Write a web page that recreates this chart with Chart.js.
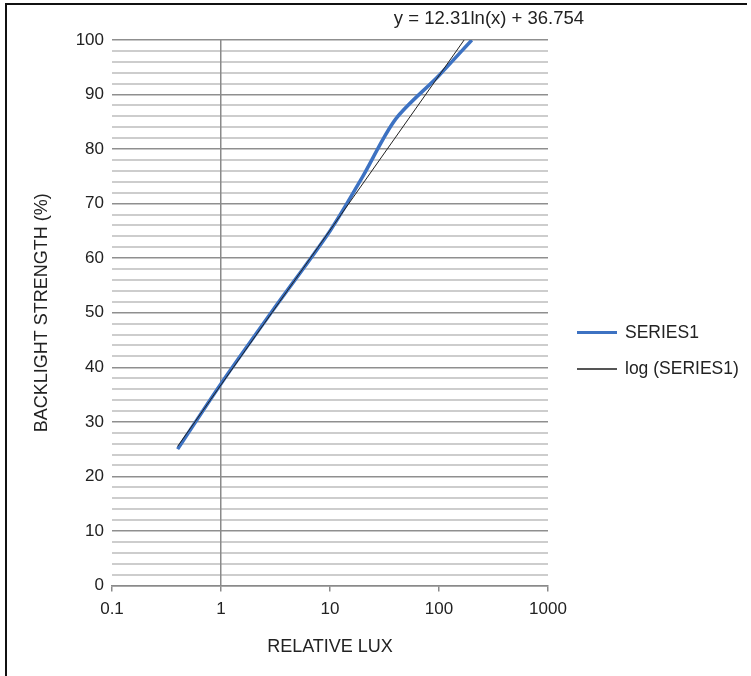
<!DOCTYPE html>
<html>
<head>
<meta charset="utf-8">
<script src="https://cdn.jsdelivr.net/npm/chart.js@4/dist/chart.umd.min.js"></script>
<style>
  html, body { margin: 0; padding: 0; background: #fff; }
  body { width: 751px; height: 676px; position: relative; overflow: hidden;
         font-family: "Liberation Sans", Arial, sans-serif; color: #222; }
  #moldura { position: absolute; left: 5px; top: 3px; width: 740px; height: 680px;
             border-top: 2px solid #111; border-left: 2px solid #111; }
  #wrap { position: absolute; left: 0; top: 0; width: 751px; height: 676px; }
  #eq { position: absolute; top: 7px; left: 389px; width: 200px; text-align: center; font-size: 18.5px; }
  .leg { position: absolute; left: 577px; display: flex; align-items: center; font-size: 17.5px; white-space: nowrap; }
  .leg i { display: inline-block; width: 40px; margin-right: 8px; }
</style>
</head>
<body>
<div id="moldura"></div>
<div id="wrap"><canvas id="cv" width="751" height="676"></canvas></div>
<div id="eq">y = 12.31ln(x) + 36.754</div>
<div class="leg" style="top:322px"><i style="height:3px;background:#3d72c2"></i>SERIES1</div>
<div class="leg" style="top:358px"><i style="height:2px;background:#555"></i>log (SERIES1)</div>
<script>
// valores
const LUX = [0.4, 1, 3, 10, 20, 40, 100, 200];
const BACKLIGHT = [25, 37, 50.5, 65, 75, 85.5, 93.5, 100];
// linha de tendencia (log) - extremos
const TREND_LUX = [0.4, 170];
const TREND_Y = [25.5, 100];
const X_TICKS = [0.1, 1, 10, 100, 1000];

const pts = (xs, ys) => xs.map((x, i) => ({ x, y: ys[i] }));

const CHART_LEFT = 112, CHART_BOTTOM = 585.5;

new Chart(document.getElementById('cv'), {
  type: 'scatter',
  data: {
    datasets: [{
      label: 'SERIES1',
      data: pts(LUX, BACKLIGHT),
      showLine: true,
      borderColor: '#3d72c2',
      borderWidth: 3.5,
      pointRadius: 0,
      tension: 0.3,
      order: 2
    }, {
      label: 'log (SERIES1)',
      data: pts(TREND_LUX, TREND_Y),
      showLine: true,
      borderColor: '#222',
      borderWidth: 1,
      pointRadius: 0,
      order: 1
    }]
  },
  options: {
    responsive: false,
    animation: false,
    layout: { padding: { left: 27, top: 40, right: 203, bottom: 0 } },
    plugins: { legend: { display: false }, tooltip: { enabled: false } },
    scales: {
      x: {
        type: 'logarithmic', min: 0.1, max: 1000,
        afterBuildTicks: s => { s.ticks = X_TICKS.map(v => ({ value: v })); },
        afterFit: s => { s.height = 676 - CHART_BOTTOM; },
        ticks: { callback: v => String(v), color: '#222', font: { size: 17, family: 'Liberation Sans' }, padding: 8, maxRotation: 0, autoSkip: false },
        grid: {
          color: c => (c.tick && c.tick.value === 1) ? '#8a8a8a' : 'rgba(0,0,0,0)',
          tickColor: '#8a8a8a', tickLength: 6, lineWidth: 1.5
        },
        border: { color: '#8a8a8a', width: 1.5 },
        title: { display: true, text: 'RELATIVE LUX', color: '#222', font: { size: 18, family: 'Liberation Sans' }, padding: { top: 0, bottom: 18 } }
      },
      y: {
        min: 0, max: 100,
        afterFit: s => { s.width = CHART_LEFT - 27; },
        ticks: { stepSize: 2, maxTicksLimit: 60, autoSkip: false, callback: v => (v % 10 === 0 ? v : ''), color: '#222', font: { size: 17, family: 'Liberation Sans' }, padding: 8 },
        grid: {
          z: -2, // grade horizontal por baixo da linha vertical em x=1
          drawTicks: false,
          color: c => (c.tick && c.tick.value % 10 === 0) ? '#8f8f8f' : '#cdcdcd',
          lineWidth: c => (c.tick && c.tick.value % 10 === 0) ? 1.5 : 2
        },
        border: { display: false },
        title: { display: true, text: 'BACKLIGHT STRENGTH (%)', color: '#222', font: { size: 18, family: 'Liberation Sans' }, padding: { top: 4, bottom: 0 } }
      }
    }
  }
});
</script>
</body>
</html>
